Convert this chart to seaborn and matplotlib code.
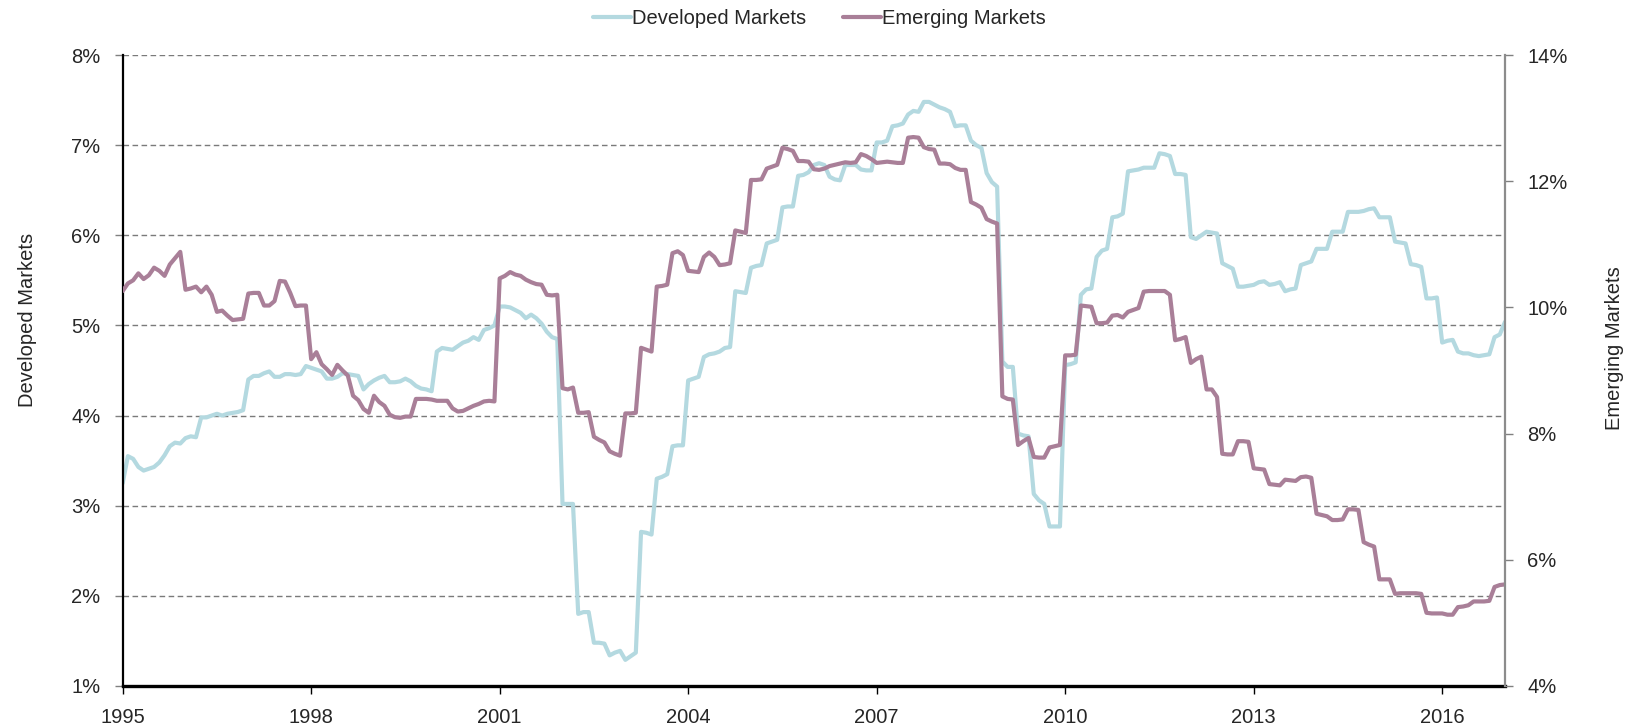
import numpy as np
import pandas as pd
import seaborn as sns
import matplotlib.pyplot as plt
from matplotlib.ticker import FuncFormatter

# Monthly yields (%), Jan 1995 .. Jan 2017, one row per year
start_year = 1995

dm_yield = [
    3.25, 3.55, 3.52, 3.43, 3.39, 3.41, 3.43, 3.48, 3.56, 3.66, 3.70, 3.69,
    3.75, 3.77, 3.76, 3.98, 3.98, 4.00, 4.02, 4.00, 4.02, 4.03, 4.04, 4.06,
    4.40, 4.44, 4.44, 4.47, 4.49, 4.43, 4.43, 4.46, 4.46, 4.45, 4.46, 4.55,
    4.53, 4.51, 4.49, 4.41, 4.41, 4.43, 4.47, 4.46, 4.45, 4.44, 4.29, 4.35,
    4.39, 4.42, 4.44, 4.37, 4.37, 4.38, 4.41, 4.38, 4.33, 4.30, 4.29, 4.27,
    4.71, 4.75, 4.74, 4.73, 4.77, 4.81, 4.83, 4.87, 4.84, 4.95, 4.97, 5.00,
    5.21, 5.21, 5.20, 5.17, 5.14, 5.08, 5.12, 5.08, 5.02, 4.93, 4.87, 4.85,
    3.02, 3.02, 3.02, 1.80, 1.82, 1.82, 1.48, 1.48, 1.47, 1.34, 1.37, 1.39,
    1.29, 1.33, 1.37, 2.71, 2.70, 2.68, 3.30, 3.32, 3.35, 3.66, 3.67, 3.67,
    4.39, 4.41, 4.43, 4.65, 4.68, 4.69, 4.71, 4.75, 4.76, 5.38, 5.37, 5.36,
    5.64, 5.66, 5.67, 5.91, 5.93, 5.95, 6.31, 6.32, 6.32, 6.66, 6.67, 6.70,
    6.78, 6.80, 6.78, 6.65, 6.62, 6.61, 6.78, 6.78, 6.78, 6.73, 6.72, 6.72,
    7.03, 7.03, 7.05, 7.21, 7.22, 7.24, 7.34, 7.38, 7.37, 7.48, 7.48, 7.45,
    7.42, 7.40, 7.37, 7.21, 7.22, 7.22, 7.05, 7.00, 6.97, 6.69, 6.59, 6.54,
    4.60, 4.54, 4.54, 3.80, 3.78, 3.77, 3.13, 3.06, 3.02, 2.77, 2.77, 2.77,
    4.56, 4.57, 4.59, 5.34, 5.40, 5.41, 5.76, 5.83, 5.85, 6.20, 6.21, 6.24,
    6.71, 6.72, 6.73, 6.75, 6.75, 6.75, 6.91, 6.90, 6.88, 6.68, 6.68, 6.67,
    5.98, 5.96, 6.00, 6.04, 6.03, 6.02, 5.69, 5.66, 5.63, 5.43, 5.43, 5.44,
    5.45, 5.48, 5.49, 5.45, 5.46, 5.48, 5.38, 5.40, 5.41, 5.67, 5.69, 5.71,
    5.85, 5.85, 5.85, 6.04, 6.04, 6.04, 6.26, 6.26, 6.26, 6.27, 6.29, 6.30,
    6.20, 6.20, 6.20, 5.93, 5.92, 5.91, 5.68, 5.67, 5.65, 5.30, 5.30, 5.31,
    4.81, 4.83, 4.84, 4.71, 4.69, 4.69, 4.67, 4.66, 4.67, 4.68, 4.87, 4.90,
    5.04,
]

em_yield = [
    10.26, 10.38, 10.43, 10.54, 10.45, 10.51, 10.63, 10.58, 10.50, 10.68, 10.78, 10.88,
    10.28, 10.30, 10.33, 10.24, 10.33, 10.20, 9.93, 9.95, 9.87, 9.80, 9.81, 9.82,
    10.22, 10.23, 10.23, 10.03, 10.03, 10.10, 10.42, 10.41, 10.23, 10.02, 10.03, 10.03,
    9.18, 9.29, 9.10, 9.02, 8.93, 9.09, 9.00, 8.92, 8.60, 8.53, 8.39, 8.33,
    8.60, 8.50, 8.44, 8.30, 8.26, 8.25, 8.27, 8.27, 8.55, 8.55, 8.55, 8.54,
    8.52, 8.52, 8.52, 8.40, 8.35, 8.36, 8.40, 8.44, 8.47, 8.51, 8.52, 8.51,
    10.46, 10.50, 10.56, 10.52, 10.50, 10.44, 10.40, 10.37, 10.36, 10.20, 10.19, 10.20,
    8.72, 8.70, 8.73, 8.33, 8.33, 8.34, 7.95, 7.90, 7.86, 7.72, 7.68, 7.65,
    8.32, 8.32, 8.33, 9.36, 9.33, 9.30, 10.33, 10.34, 10.36, 10.86, 10.89, 10.83,
    10.58, 10.57, 10.56, 10.80, 10.87, 10.80, 10.67, 10.68, 10.70, 11.22, 11.20, 11.18,
    12.02, 12.02, 12.03, 12.20, 12.23, 12.26, 12.53, 12.51, 12.48, 12.32, 12.32, 12.31,
    12.19, 12.18, 12.20, 12.24, 12.26, 12.28, 12.30, 12.29, 12.30, 12.43, 12.40, 12.35,
    12.29, 12.30, 12.31, 12.30, 12.29, 12.29, 12.69, 12.70, 12.69, 12.54, 12.51, 12.50,
    12.28, 12.28, 12.27, 12.21, 12.18, 12.18, 11.67, 11.63, 11.58, 11.40, 11.36, 11.33,
    8.59, 8.55, 8.54, 7.82, 7.88, 7.93, 7.63, 7.62, 7.62, 7.78, 7.80, 7.82,
    9.24, 9.24, 9.25, 10.03, 10.02, 10.01, 9.75, 9.75, 9.76, 9.87, 9.88, 9.84,
    9.93, 9.96, 9.99, 10.25, 10.26, 10.26, 10.26, 10.26, 10.20, 9.48, 9.50, 9.53,
    9.12, 9.18, 9.22, 8.70, 8.70, 8.58, 7.68, 7.67, 7.67, 7.88, 7.88, 7.87,
    7.45, 7.44, 7.43, 7.20, 7.19, 7.18, 7.27, 7.26, 7.25, 7.31, 7.32, 7.30,
    6.73, 6.71, 6.69, 6.63, 6.63, 6.64, 6.80, 6.80, 6.79, 6.28, 6.24, 6.21,
    5.69, 5.69, 5.69, 5.46, 5.47, 5.47, 5.47, 5.47, 5.46, 5.16, 5.15, 5.15,
    5.15, 5.13, 5.13, 5.25, 5.26, 5.28, 5.34, 5.34, 5.34, 5.35, 5.57, 5.60,
    5.61,
]

year_ticks = [1995, 1998, 2001, 2004, 2007, 2010, 2013, 2016]
dm_ticks = [1, 2, 3, 4, 5, 6, 7, 8]
em_ticks = [4, 6, 8, 10, 12, 14]

df = pd.DataFrame({
    'year': start_year + np.arange(len(dm_yield)) / 12,
    'Developed Markets': dm_yield,
    'Emerging Markets': em_yield,
})

sns.set_style('white')
plt.rcParams['font.family'] = ['Liberation Sans', 'DejaVu Sans']

dm_color = '#B4D9E0'
em_color = '#A97F98'
fs = 14.5

fig = plt.figure(figsize=(16.29, 7.26), dpi=100)
ax = fig.add_axes([0.0753, 0.0551, 0.8486, 0.8691])

sns.lineplot(data=df, x='year', y='Developed Markets', ax=ax, color=dm_color,
             linewidth=3.0, label='Developed Markets', legend=False)
ax2 = ax.twinx()
sns.lineplot(data=df, x='year', y='Emerging Markets', ax=ax2, color=em_color,
             linewidth=3.0, label='Emerging Markets', legend=False)

pct = FuncFormatter(lambda v, p: f'{v:.0f}%')

ax.set_xlim(1995, 2017)
ax.set_xticks(year_ticks)
ax.set_xticklabels([str(y) for y in year_ticks])
ax.set_ylim(1, 8)
ax.set_yticks(dm_ticks)
ax.yaxis.set_major_formatter(pct)
ax.set_xlabel('')
ax.yaxis.grid(True, linestyle=(0, (4, 2.5)), color='#7a7a7a', linewidth=1)
ax.xaxis.grid(False)

ax2.set_ylim(4, 14)
ax2.set_yticks(em_ticks)
ax2.yaxis.set_major_formatter(pct)
ax2.grid(False)

for s in ['top', 'right']:
    ax.spines[s].set_visible(False)
ax.spines['left'].set_color('black')
ax.spines['left'].set_linewidth(1.6)
ax.spines['bottom'].set_color('black')
ax.spines['bottom'].set_linewidth(2.4)
for s in ['top', 'left', 'bottom']:
    ax2.spines[s].set_visible(False)
ax2.spines['right'].set_color('#8c8c8c')
ax2.spines['right'].set_linewidth(1.6)

ax.tick_params(axis='y', direction='out', length=6, width=1, color='#808080',
               labelsize=fs, pad=10, left=True)
ax.tick_params(axis='x', direction='out', length=6, width=1, color='black',
               labelsize=fs, pad=10, bottom=True)
ax2.tick_params(axis='y', direction='out', length=6, width=1, color='#808080',
                labelsize=fs, pad=10, right=True)

ax.set_ylabel('Developed Markets', fontsize=fs)
ax.yaxis.set_label_coords(-0.062, 0.58)
ax2.set_ylabel('Emerging Markets', fontsize=fs, rotation=90)
ax2.yaxis.set_label_coords(1.072, 0.535)

h1, l1 = ax.get_legend_handles_labels()
h2, l2 = ax2.get_legend_handles_labels()
fig.legend(h1 + h2, l1 + l2, loc='center', bbox_to_anchor=(0.503, 0.974),
           ncol=2, frameon=False, fontsize=fs, handlelength=1.9,
           handletextpad=0.05, columnspacing=1.8)

fig.savefig('out.png', dpi=100)
